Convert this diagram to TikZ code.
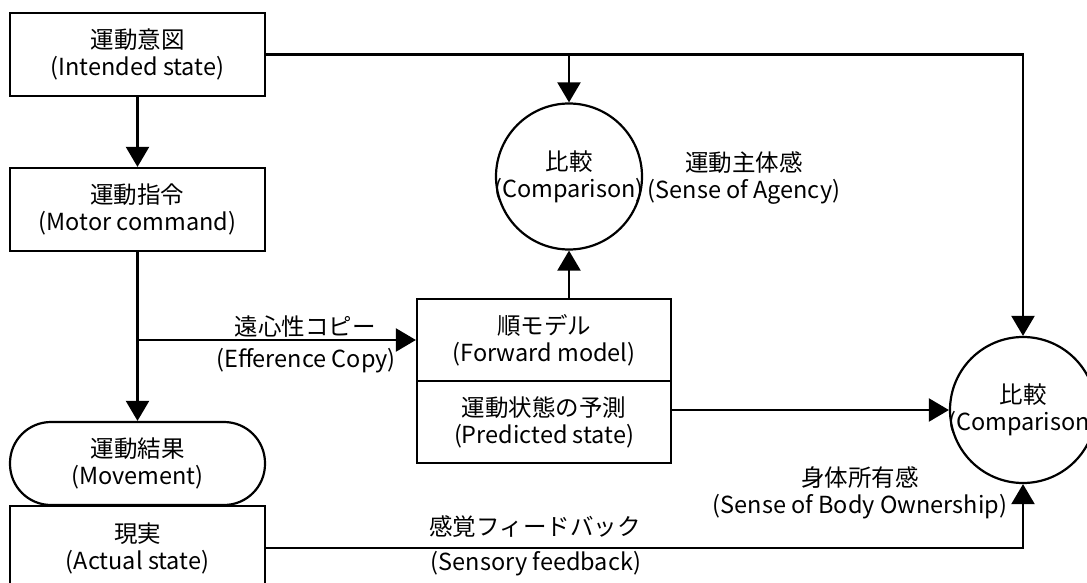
\documentclass[tikz,border=0pt]{standalone}
\usepackage{fontspec}
\setmainfont{Noto Sans CJK JP}
\usetikzlibrary{arrows.meta}
\begin{document}
\begin{tikzpicture}[x=1pt,y=-1pt,
  every node/.style={font=\fontsize{23.5}{27}\selectfont, align=center},
  box/.style={draw, line width=2.2pt, minimum width=255pt, minimum height=83pt, inner sep=0pt},
  stadium/.style={box, rounded corners=41pt},
  cmp/.style={draw, circle, line width=2.2pt, minimum size=146pt, inner sep=0pt},
  conn/.style={line width=2.2pt},
  arr/.style={conn, -{Triangle[width=23pt,length=20pt]}},
  lbl/.style={inner sep=0pt}]
\useasboundingbox (0,0) rectangle (1087,583);
\clip (0,0) rectangle (1087,583);

% left column
\node[box] (intent) at (137.5,54.5) {運動意図\\(Intended state)};
\node[box] (cmd) at (137.5,209.5) {運動指令\\(Motor command)};
\node[stadium] (mov) at (137.5,463.5) {運動結果\\(Movement)};
\node[box, minimum height=84pt] (act) at (137.5,548) {現実\\(Actual state)};

% forward model, two stacked cells
\node[box, minimum width=254pt, minimum height=82pt] (fm) at (544,340) {順モデル\\(Forward model)};
\node[box, minimum width=254pt, minimum height=82pt] (ps) at (544,422) {運動状態の予測\\(Predicted state)};

% comparators
\node[cmp, label={[lbl]center:比較\\(Comparison)}] (cmpA) at (569,176.5) {};
\node[cmp, label={[lbl]center:比較\\(Comparison)}] (cmpB) at (1023,410) {};

% connectors
\draw[arr] (intent) -- (cmd);
\draw[arr] (cmd) -- (mov);
\coordinate (branch) at (cmd.south |- fm.west);
\draw[arr] (branch) -- (fm.west);
\draw[arr] (intent.east) -| (cmpB.north);
\coordinate (tap) at (intent.east -| cmpA.north);
\draw[arr] (tap) -- (cmpA.north);
\coordinate (fmtop) at (fm.north -| cmpA.south);
\draw[arr] (fmtop) -- (cmpA.south);
\draw[arr] (ps.east |- cmpB.west) -- (cmpB.west);
\draw[arr] (act.east) -| (cmpB.south);

% edge labels
\node[lbl] (effJ) at (305,327) {遠心性コピー};
\node[lbl] (effE) at (306,361) {(Efference Copy)};
\node[lbl] (agency) at (744,177.5) {運動主体感\\(Sense of Agency)};
\node[lbl] (sensJ) at (535,527) {感覚フィードバック};
\node[lbl] (sensE) at (536,564) {(Sensory feedback)};
\node[lbl] (owner) at (860,492.5) {身体所有感\\(Sense of Body Ownership)};
\end{tikzpicture}
\end{document}
